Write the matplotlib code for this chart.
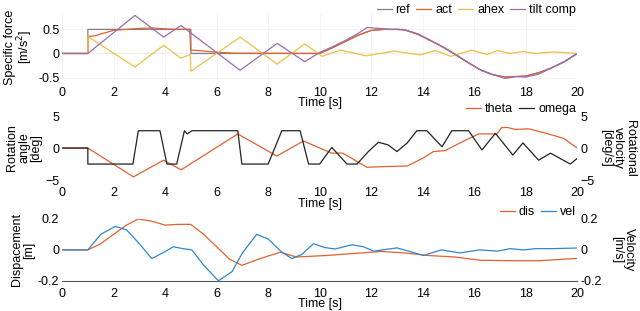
import numpy as np
import matplotlib.pyplot as plt

plt.rcParams['font.family'] = ['Liberation Sans', 'DejaVu Sans']
plt.rcParams['font.size'] = 9

# ---- top panel: specific force [m/s^2]
t_ref = [0, 1, 1, 5, 5, 10, 10.5, 11, 11.5, 12, 12.5, 13, 13.3, 13.8, 14.3, 14.8, 15.2, 15.7, 16.2, 16.7, 17.2, 17.6, 18, 18.5, 19, 19.5, 20]
ref = [0, 0, 0.5, 0.5, 0, 0, 0.12, 0.25, 0.38, 0.48, 0.5, 0.5, 0.49, 0.4, 0.27, 0.13, 0.0, -0.17, -0.33, -0.44, -0.49, -0.48, -0.47, -0.4, -0.3, -0.17, 0]

t_act = [0, 1, 1, 1.3, 1.6, 2.0, 2.5, 3.0, 3.5, 4.0, 4.5, 4.95, 5.0, 5.3, 5.7, 6.2, 6.7, 10, 10.5, 11, 11.5, 12, 12.5, 13, 13.3, 13.8, 14.3, 14.8, 15.2, 15.7, 16.2, 16.7, 17.2, 17.6, 18, 18.5, 19, 19.5, 20]
act = [0, 0, 0.35, 0.37, 0.42, 0.48, 0.5, 0.52, 0.53, 0.51, 0.5, 0.5, 0.07, 0.06, 0.04, 0.02, 0.005, 0, 0.12, 0.25, 0.38, 0.48, 0.5, 0.5, 0.49, 0.4, 0.27, 0.13, 0.0, -0.17, -0.33, -0.44, -0.49, -0.48, -0.47, -0.4, -0.3, -0.17, 0]

t_ahex = [0, 1, 1, 2.83, 3.94, 4.62, 4.98, 5.0, 6.91, 8.35, 9.42, 10.1, 10.8, 11.8, 12.9, 13.9, 14.5, 15.1, 15.9, 16.5, 16.9, 17.4, 17.9, 18.4, 19.0, 19.5, 20]
ahex = [0, 0, 0.35, -0.28, 0.17, -0.1, -0.02, -0.37, 0.34, -0.22, 0.2, -0.06, 0.07, -0.05, 0.05, -0.03, 0.06, -0.06, 0.07, -0.02, 0.06, 0.0, 0.04, 0.0, 0.03, 0.02, 0]

t_tilt = [0, 1, 2.83, 3.94, 4.62, 6.91, 8.35, 9.42, 10.0, 10.5, 11, 11.5, 11.85, 12.3, 12.8, 13.25, 13.8, 14.3, 14.8, 15.3, 15.8, 16.3, 16.8, 17.2, 17.6, 18.0, 18.5, 19, 19.5, 20]
tilt = [0, 0, 0.79, 0.34, 0.58, -0.35, 0.21, -0.17, 0.02, 0.14, 0.27, 0.42, 0.54, 0.52, 0.5, 0.5, 0.41, 0.27, 0.13, -0.03, -0.2, -0.36, -0.45, -0.52, -0.48, -0.49, -0.43, -0.3, -0.17, 0]

# ---- middle panel: rotation angle [deg] / rotational velocity [deg/s]
t_theta = [0, 1, 2.77, 3.94, 4.62, 6.82, 8.34, 9.37, 10.47, 10.9, 11.83, 12.5, 13.4, 14.0, 14.42, 14.87, 15.5, 16.17, 16.88, 17.07, 17.3, 17.6, 18.1, 18.5, 18.8, 19.47, 20]
theta = [0, 0, -4.5, -1.9, -3.4, 2.2, -1.25, 1.1, -0.8, -0.8, -3.0, -2.9, -2.8, -1.6, -0.55, -0.4, 0.9, 2.2, 2.2, 3.2, 3.2, 2.9, 3.0, 2.6, 2.3, 1.5, 0]

t_omega = [0, 1, 1, 2.75, 2.96, 3.8, 4.07, 4.45, 4.75, 4.86, 5.04, 6.82, 6.98, 8.0, 8.53, 9.24, 9.57, 10.0, 10.47, 11.06, 11.45, 11.9, 12.28, 12.65, 13.0, 13.4, 13.77, 14.16, 14.75, 15.13, 15.78, 16.3, 16.82, 17.5, 17.89, 18.5, 18.96, 19.73, 20]
omega = [0, 0, -2.5, -2.5, 2.7, 2.7, -2.5, -2.5, 2.7, 2.2, 2.7, 2.7, -2.5, -2.5, 2.7, 2.7, -2.5, -2.5, 0.1, -2.5, -2.5, -0.5, 0.9, 0.5, -0.55, 0.8, 2.7, 2.7, 0.2, 2.7, 2.7, -0.3, 2.3, -1.1, 0.8, -1.9, -0.8, -2.5, -1.6]

# ---- bottom panel: displacement [m] / velocity [m/s]
t_dis = [0, 1, 1.5, 2.0, 2.5, 2.96, 3.5, 4.0, 4.5, 5.0, 5.5, 6.0, 6.5, 6.98, 7.69, 8.47, 9.1, 10.28, 11.6, 12.4, 13.3, 14.2, 15.25, 16.23, 17.5, 18.5, 19.5, 20]
dis = [0, 0, 0.04, 0.1, 0.16, 0.2, 0.185, 0.16, 0.165, 0.165, 0.1, 0.02, -0.06, -0.1, -0.056, -0.015, -0.046, -0.036, -0.02, -0.01, -0.02, -0.036, -0.046, -0.067, -0.07, -0.07, -0.06, -0.055]

t_vel = [0, 1, 1.5, 2.06, 2.5, 3.0, 3.48, 3.9, 4.32, 4.7, 5.04, 5.5, 6.07, 6.6, 7.0, 7.55, 8.0, 8.5, 8.92, 9.3, 9.76, 10.2, 10.6, 11.25, 11.7, 12.1, 13.0, 14.03, 14.73, 15.44, 16.2, 16.9, 17.4, 17.9, 18.4, 19.0, 19.5, 20]
vel = [0, 0, 0.1, 0.152, 0.13, 0.04, -0.056, -0.02, 0.02, 0.008, 0.0, -0.1, -0.2, -0.14, -0.02, 0.1, 0.07, -0.01, -0.056, -0.03, 0.04, 0.015, 0.006, 0.033, 0.02, -0.008, 0.013, -0.036, 0.0, -0.02, 0.0, -0.008, 0.008, 0.0, 0.008, 0.008, 0.01, 0.012]

xticks = list(range(0, 21, 2))

c_orange = '#E0622E'
c_yellow = '#F0BE4A'
c_purple = '#9B6BB0'
c_blue = '#2F86CC'
c_black = '#222222'
c_ref = '#808080'
lw = 0.9

fig = plt.figure(figsize=(6.4, 3.11), dpi=100)
left, right = 0.097, 0.902
ax1 = fig.add_axes([left, 0.743, right - left, 0.212])
ax2 = fig.add_axes([left, 0.421, right - left, 0.206])
ax3 = fig.add_axes([left, 0.097, right - left, 0.199])

leg_kw = dict(frameon=False, handlelength=1.2, handletextpad=0.3, columnspacing=0.5,
              borderaxespad=0, borderpad=0.1)


def style(ax, show_bottom=False):
    for s in ['top', 'right', 'left']:
        ax.spines[s].set_visible(False)
    ax.spines['bottom'].set_visible(show_bottom)
    ax.spines['bottom'].set_color('#555555')
    ax.tick_params(length=0, pad=2)
    ax.tick_params(axis='x', pad=5)
    ax.set_xlim(0, 20)
    ax.set_xticks(xticks)
    ax.set_xlabel('Time [s]', labelpad=-1)


# top
ax1.axhline(0, color='#d8d8d8', lw=0.8, zorder=0)
ax1.grid(True, color='#f2f2f2', lw=0.6)
ax1.plot(t_ref, ref, color=c_ref, lw=lw, label='ref')
ax1.plot(t_act, act, color=c_orange, lw=lw, label='act')
ax1.plot(t_ahex, ahex, color=c_yellow, lw=lw, label='ahex')
ax1.plot(t_tilt, tilt, color=c_purple, lw=lw, label='tilt comp')
style(ax1)
ax1.set_ylim(-0.55, 0.82)
ax1.set_yticks([-0.5, 0, 0.5])
ax1.set_yticklabels(['-0.5', '0', '0.5'])
ax1.set_ylabel('Specific force\n[m/s$^2$]', labelpad=2, linespacing=1.0)
ax1.legend(loc='lower right', bbox_to_anchor=(1.0, 0.95), ncol=4, **leg_kw)

# middle
ax2.plot(t_theta, theta, color=c_orange, lw=lw, label='theta')
style(ax2)
ax2.set_ylim(-5, 5)
ax2.set_yticks([-5, 0, 5])
ax2.set_ylabel('Rotation\nangle\n[deg]', labelpad=2, linespacing=1.0)
ax2r = ax2.twinx()
ax2r.plot(t_omega, omega, color=c_black, lw=lw, label='omega')
ax2r.set_ylim(-5, 5)
ax2r.set_yticks([-5, 0, 5])
for s in ax2r.spines.values():
    s.set_visible(False)
ax2r.tick_params(length=0, pad=2)
ax2r.set_ylabel('Rotational\nvelocity\n[deg/s]', rotation=270, labelpad=30, linespacing=1.0)
h1, l1 = ax2.get_legend_handles_labels()
h2, l2 = ax2r.get_legend_handles_labels()
ax2r.legend(h1 + h2, l1 + l2, loc='lower right', bbox_to_anchor=(1.0, 0.99), ncol=2, **leg_kw)

# bottom
ax3.plot(t_dis, dis, color=c_orange, lw=lw, label='dis')
style(ax3, show_bottom=True)
ax3.set_ylim(-0.2, 0.2)
ax3.set_yticks([-0.2, 0, 0.2])
ax3.set_yticklabels(['-0.2', '0', '0.2'])
ax3.set_ylabel('Dispacement\n[m]', labelpad=2, linespacing=1.0)
ax3r = ax3.twinx()
ax3r.plot(t_vel, vel, color=c_blue, lw=lw, label='vel')
ax3r.set_ylim(-0.2, 0.2)
ax3r.set_yticks([-0.2, 0, 0.2])
ax3r.set_yticklabels(['-0.2', '0', '0.2'])
for s in ax3r.spines.values():
    s.set_visible(False)
ax3r.tick_params(length=0, pad=2)
ax3r.set_ylabel('Velocity\n[m/s]', rotation=270, labelpad=24, linespacing=1.0)
h1, l1 = ax3.get_legend_handles_labels()
h2, l2 = ax3r.get_legend_handles_labels()
ax3r.legend(h1 + h2, l1 + l2, loc='lower right', bbox_to_anchor=(1.0, 0.99), ncol=2, **leg_kw)

fig.savefig('out.png', dpi=100)
